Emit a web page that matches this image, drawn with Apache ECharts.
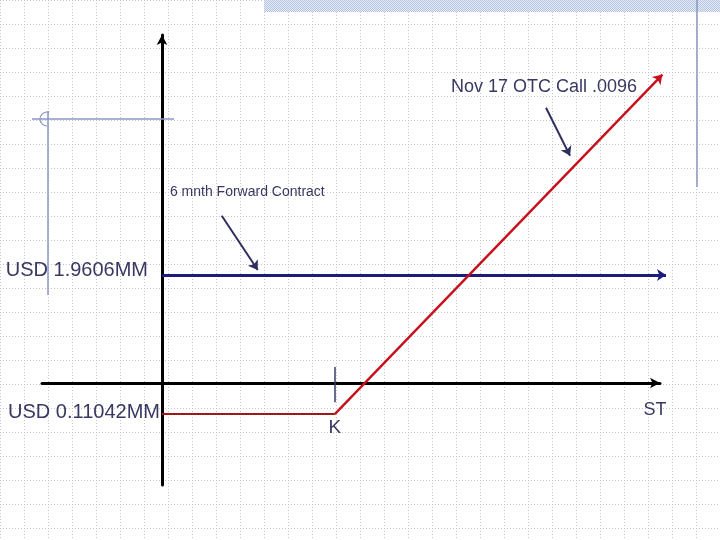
<!DOCTYPE html>
<html><head><meta charset="utf-8">
<script src="https://cdn.jsdelivr.net/npm/echarts@6/dist/echarts.min.js"></script>
<style>html,body{margin:0;padding:0;background:#fff}#c{width:720px;height:540px}</style>
</head><body><div id="c"></div>
<script>
// Schematic units (1 unit = one background grid cell), origin at the axes crossing
const xRange = [-5, 20.75];          // ST axis extent
const yRange = [-4.25, 14.5];        // payoff axis extent
const forwardLevel = 4.5;            // USD 1.9606MM
const forwardLine = [[0, 4.5], [21, 4.5]];
const strikeK = 7.2;
const callFloor = -1.3;              // USD 0.11042MM
const callFlat = [[0, -1.3], [7.2, -1.3]];
const callRise = [[7.2, -1.3], [20.85, 12.85]];
const kTick = [[7.2, 0.67], [7.2, -0.8]];
const callNoteArrow = [[16.0, 11.47], [17.0, 9.47]];
const fwdNoteArrow = [[2.49, 6.97], [3.99, 4.71]];
const texts = {
  forward: 'USD 1.9606MM',
  floor: 'USD 0.11042MM',
  strike: 'K',
  axis: 'ST',
  callNote: 'Nov 17 OTC Call .0096',
  fwdNote: '6 mnth Forward Contract'
};
const notePos = { callNote: [12.04, 12.33], fwdNote: [0.33, 7.96] };

const FONT = '"Liberation Sans", Arial, sans-serif';
const TXT = '#383862';
const chart = echarts.init(document.getElementById('c'), null, { renderer: 'canvas' });

function seg(coords, color, width, arrow, z) {
  return {
    type: 'lines', coordinateSystem: 'cartesian2d', xAxisIndex: 0, yAxisIndex: 0,
    polyline: coords.length > 2, clip: false, silent: true, z: z || 5,
    symbol: arrow ? ['none', 'arrow'] : ['none', 'none'], symbolSize: 9,
    lineStyle: { color: color, width: width, opacity: 1, curveness: 0 },
    data: [{ coords: coords }]
  };
}
const bgSplit = { show: true, lineStyle: { color: '#c4c4c4', width: 1, type: [1, 2] } };

chart.setOption({
  animation: false,
  backgroundColor: '#fff',
  grid: [
    { left: 42, right: 60, top: 35, bottom: 55 },
    { left: 0, right: 0, top: 0, bottom: 0, z: 0 }
  ],
  xAxis: [
    { type: 'value', gridIndex: 0, min: xRange[0], max: xRange[1],
      axisLine: { show: true, onZero: true, symbol: ['none', 'arrow'], symbolSize: [8, 10],
        lineStyle: { color: '#000', width: 3 } },
      axisTick: { show: false }, axisLabel: { show: false }, splitLine: { show: false } },
    { type: 'value', gridIndex: 1, min: 0, max: 30, interval: 1,
      axisLine: { show: false }, axisTick: { show: false }, axisLabel: { show: false },
      splitLine: bgSplit }
  ],
  yAxis: [
    { type: 'value', gridIndex: 0, min: yRange[0], max: yRange[1],
      axisLine: { show: true, onZero: true, symbol: ['none', 'arrow'], symbolSize: [8, 10],
        lineStyle: { color: '#000', width: 3 } },
      axisTick: { show: false }, axisLabel: { show: false }, splitLine: { show: false } },
    { type: 'value', gridIndex: 1, min: 0, max: 22.5, interval: 1, inverse: true,
      axisLine: { show: false }, axisTick: { show: false }, axisLabel: { show: false },
      splitLine: bgSplit }
  ],
  series: [
    seg(forwardLine, '#1c1c80', 3, true, 6),
    seg(callFlat, '#a01818', 1.8, false, 7),
    seg(callRise, '#c8101c', 2.4, true, 7),
    seg(kTick, '#3a3a66', 1.5, false, 6),
    seg(callNoteArrow, '#2e2e5e', 2, true, 6),
    seg(fwdNoteArrow, '#2e2e5e', 2, true, 6)
  ]
});

const px = p => chart.convertToPixel({ gridIndex: 0 }, p);
const fwdP = px([0, forwardLevel]);
const floorP = px([0, callFloor]);
const kP = px([strikeK, callFloor]);
const axEnd = px([xRange[1], 0]);
const cn = px(notePos.callNote);
const fn = px(notePos.fwdNote);

function txt(text, x, y, size, align) {
  return { type: 'text', x: x, y: y, z: 20, silent: true,
    style: { text: text, fill: TXT, font: size + 'px ' + FONT, align: align || 'left', verticalAlign: 'middle' } };
}

// light checker pattern for the decorative top band
const pc = document.createElement('canvas');
pc.width = 2; pc.height = 2;
const pctx = pc.getContext('2d');
pctx.fillStyle = '#e6ecf6'; pctx.fillRect(0, 0, 2, 2);
pctx.fillStyle = '#b4c4e2'; pctx.fillRect(0, 0, 1, 1); pctx.fillRect(1, 1, 1, 1);

chart.setOption({
  graphic: [
    { type: 'rect', shape: { x: 264, y: 0, width: 456, height: 12 },
      style: { fill: { image: pc, repeat: 'repeat' } }, z: 1, silent: true },
    { type: 'line', shape: { x1: 697, y1: 0, x2: 697, y2: 187 }, style: { stroke: '#8a97bf', lineWidth: 1.5 }, z: 1, silent: true },
    { type: 'line', shape: { x1: 32, y1: 119, x2: 174, y2: 119 }, style: { stroke: '#8a97c4', lineWidth: 1.5 }, z: 1, silent: true },
    { type: 'line', shape: { x1: 48, y1: 111, x2: 48, y2: 295 }, style: { stroke: '#8a97c4', lineWidth: 1.5 }, z: 1, silent: true },
    { type: 'arc', shape: { cx: 47, cy: 119, r: 7, startAngle: Math.PI * 0.5, endAngle: Math.PI * 1.6, clockwise: true },
      style: { stroke: '#8a97c4', lineWidth: 1.2, fill: null }, z: 1, silent: true },
    txt(texts.forward, fwdP[0] - 14, fwdP[1] - 5, 20, 'right'),
    txt(texts.floor, floorP[0] - 2, floorP[1] - 2, 20, 'right'),
    txt(texts.strike, kP[0], kP[1] + 14, 19, 'center'),
    txt(texts.axis, axEnd[0] - 5, axEnd[1] + 27, 18, 'center'),
    txt(texts.callNote, cn[0], cn[1], 18, 'left'),
    txt(texts.fwdNote, fn[0], fn[1], 14, 'left')
  ]
});
</script></body></html>
